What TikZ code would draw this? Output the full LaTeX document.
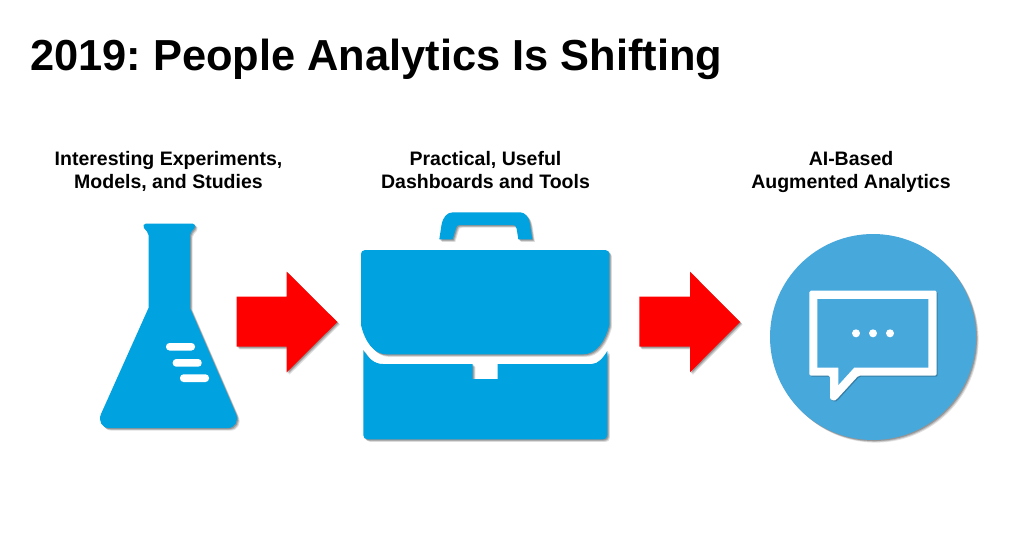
\documentclass[tikz,border=0pt]{standalone}
\usepackage{fontspec}
\setmainfont{Liberation Sans}
\usetikzlibrary{shadows}
\definecolor{iconblue}{HTML}{00A2E0}
\definecolor{discblue}{HTML}{47A8DC}
\tikzset{
  softshadow/.style={
    drop shadow={shadow xshift=2.6pt,shadow yshift=-2.6pt,opacity=.12,fill=black},
    drop shadow={shadow xshift=1.8pt,shadow yshift=-1.8pt,opacity=.16,fill=black},
    drop shadow={shadow xshift=1pt,shadow yshift=-1pt,opacity=.2,fill=black}},
  icon/.style={fill=iconblue,softshadow},
  redarrow/.style={fill=red,softshadow},
  slot/.style={fill=white,rounded corners=3.5pt},
  label/.style={font=\frenchspacing\fontsize{19.5}{23}\selectfont\bfseries,align=center,text=black,inner sep=0pt,anchor=base},
  titletext/.style={font=\frenchspacing\fontsize{43.4}{48}\selectfont\bfseries,text=black,inner sep=0pt,anchor=base west}
}
\begin{document}
\begin{tikzpicture}[x=1pt,y=-1pt]
\useasboundingbox (0,0) rectangle (1024,536);
\fill[white] (0,0) rectangle (1024,536);
\node[titletext] (title) at (30,70) {2019: People Analytics Is Shifting};
\node[label] (l1) at (168.5,188) {Interesting Experiments,\\Models, and Studies};
\node[label] (l2) at (485.5,188) {Practical, Useful\\Dashboards and Tools};
\node[label] (l3) at (851,188) {AI-Based\\Augmented Analytics};
% flask
\path[icon] (146,223.5) -- (192.5,223.5) .. controls (195,223.5) and (196,226) .. (194.5,228)
  -- (191.5,231.5) .. controls (190.5,232.5) and (190,233.5) .. (190,235) -- (190,308)
  -- (236,414) .. controls (239,421) and (235,428) .. (228,428)
  -- (109,428) .. controls (102,428) and (98,421) .. (101,414)
  -- (148.5,308) -- (148.5,235) .. controls (148.5,233.5) and (148,232.5) .. (147,231.5)
  -- (144,228) .. controls (142.5,226) and (143.5,223.5) .. (146,223.5) -- cycle;
\fill[slot] (166,343) rectangle (195,350.5);
\fill[slot] (172.7,359) rectangle (201.7,366.7);
\fill[slot] (180,374.3) rectangle (209,382);
% arrows
\path[redarrow] (236.7,296.7) -- (286.7,296.7) -- (286.7,271.7) -- (337.3,322) -- (286.7,372.3) -- (286.7,346.7) -- (236.7,346.7) -- cycle;
\path[redarrow] (639.3,296.7) -- (690,296.7) -- (690,271.7) -- (740,322) -- (690,372.3) -- (690,346.7) -- (639.3,346.7) -- cycle;
% briefcase
\path[icon] (439.3,239.3) -- (441.5,225) .. controls (443,217) and (447,212.3) .. (453,212.3)
  -- (520,212.3) .. controls (525,212.3) and (529,217) .. (530,224) -- (532.3,239.3)
  -- (518.3,239.3) -- (516.7,229) .. controls (516.2,226) and (515,225) .. (513,225)
  -- (460,225) .. controls (457.5,225) and (456.2,226) .. (455.8,229) -- (452.7,239.3) -- cycle;
\path[icon] (365,250) -- (605.3,250) .. controls (608,250) and (609.3,252) .. (609.3,254)
  -- (609.3,325) .. controls (605,342) and (596,354.3) .. (583,354.3)
  -- (386.7,354.3) .. controls (374,354.3) and (365,342) .. (361,325)
  -- (361,254) .. controls (361,252) and (362.5,250) .. (365,250) -- cycle;
\path[icon] (363.3,350) .. controls (368,358) and (374,364) .. (383,364)
  -- (472.7,364) -- (472.7,379) -- (497.7,379) -- (497.7,364) -- (591.7,364)
  .. controls (598,364) and (603,358) .. (607.3,351)
  -- (607.3,435) .. controls (607.3,438) and (605.5,439.3) .. (603,439.3)
  -- (368,439.3) .. controls (365,439.3) and (363.3,438) .. (363.3,435) -- cycle;
% disc and speech bubble
\node[circle,minimum size=206pt,inner sep=0pt,fill=discblue,softshadow] (disc) at (873,337) {};
\path[fill=white,drop shadow={shadow xshift=1pt,shadow yshift=-1pt,opacity=.25,fill=black},rounded corners=1.5pt] (809.3,290.7) -- (936.7,290.7) -- (936.7,375.7) -- (858.3,375.7)
  -- (836.5,399.5) .. controls (834,401) and (830,400) .. (830,396) -- (830,375.7) -- (809.3,375.7) -- cycle;
\fill[discblue] (817.3,299) -- (928.3,299) -- (928.3,367.7) -- (854,367.7) -- (838.3,385) -- (838.3,367.7) -- (817.3,367.7) -- cycle;
\fill[white] (856,333.3) circle (4);
\fill[white] (873,333.3) circle (4);
\fill[white] (890,333.3) circle (4);
\end{tikzpicture}
\end{document}
